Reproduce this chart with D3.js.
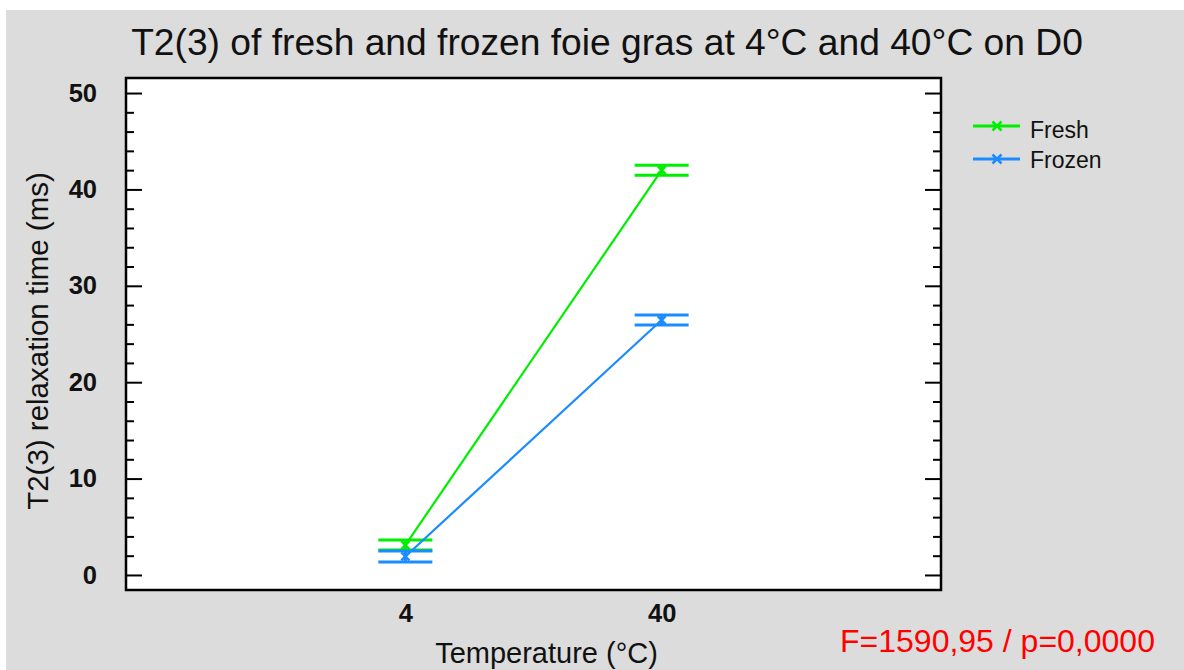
<!DOCTYPE html>
<html>
<head>
<meta charset="utf-8">
<script src="https://cdn.jsdelivr.net/npm/d3@7"></script>
<style>
  html, body { margin: 0; padding: 0; background: #ffffff; }
  svg { display: block; font-family: "Liberation Sans", Arial, sans-serif; }
</style>
</head>
<body>
<svg id="chart" width="1184" height="670"></svg>
<script>
const categories = ["4", "40"];
const seriesNames = ["Fresh", "Frozen"];
const freshMean = [3.1, 42.0];
const freshErr = [0.52, 0.52];
const frozenMean = [1.92, 26.45];
const frozenErr = [0.57, 0.52];
const yMajorTicks = [0, 10, 20, 30, 40, 50];
const yMinorTicks = [2, 4, 6, 8, 12, 14, 16, 18, 22, 24, 26, 28, 32, 34, 36, 38, 42, 44, 46, 48];

const colors = { Fresh: "#00ee00", Frozen: "#1a8cff" };
const series = [
  { name: "Fresh", mean: freshMean, err: freshErr },
  { name: "Frozen", mean: frozenMean, err: frozenErr }
];

const W = 1184, H = 670;
const plot = { left: 126, top: 78, right: 941, bottom: 590 };

const svg = d3.select("#chart");
svg.append("rect").attr("x", 6).attr("y", 10).attr("width", W - 6).attr("height", H - 10).attr("fill", "#dcdcdc");
svg.append("rect").attr("x", plot.left).attr("y", plot.top)
  .attr("width", plot.right - plot.left).attr("height", plot.bottom - plot.top).attr("fill", "#ffffff");

const x = d3.scalePoint().domain(categories).range([plot.left, plot.right]).padding(1.09);
const y = d3.scaleLinear().domain([-1.56, 51.56]).range([plot.bottom, plot.top]);

// Title
svg.append("text").attr("x", 607).attr("y", 55).attr("text-anchor", "middle")
  .attr("font-size", 37.2).attr("fill", "#111").text("T2(3) of fresh and frozen foie gras at 4°C and 40°C on D0");

// Axes
function styleAxis(g) {
  g.select(".domain").remove();
  g.selectAll(".tick line").attr("stroke", "#000").attr("stroke-width", 2);
}
const leftMajor = svg.append("g").attr("transform", `translate(${plot.left},0)`)
  .call(d3.axisLeft(y).tickValues(yMajorTicks).tickSize(-16).tickPadding(29).tickFormat(d3.format("d")));
styleAxis(leftMajor);
leftMajor.selectAll(".tick text").attr("font-size", 25.5).attr("font-weight", "bold").attr("fill", "#111")
  .attr("font-family", "Liberation Sans, Arial, sans-serif");
const leftMinor = svg.append("g").attr("transform", `translate(${plot.left},0)`)
  .call(d3.axisLeft(y).tickValues(yMinorTicks).tickSize(-8).tickFormat(""));
styleAxis(leftMinor);
const rightMajor = svg.append("g").attr("transform", `translate(${plot.right},0)`)
  .call(d3.axisRight(y).tickValues(yMajorTicks).tickSize(-16).tickFormat(""));
styleAxis(rightMajor);
const rightMinor = svg.append("g").attr("transform", `translate(${plot.right},0)`)
  .call(d3.axisRight(y).tickValues(yMinorTicks).tickSize(-8).tickFormat(""));
styleAxis(rightMinor);

const bottomAxis = svg.append("g").attr("transform", `translate(0,${plot.bottom})`)
  .call(d3.axisBottom(x).tickSize(0).tickPadding(14));
bottomAxis.select(".domain").remove();
bottomAxis.selectAll(".tick text").attr("font-size", 25.5).attr("font-weight", "bold").attr("fill", "#111")
  .attr("font-family", "Liberation Sans, Arial, sans-serif");

// Frame
svg.append("rect").attr("x", plot.left).attr("y", plot.top)
  .attr("width", plot.right - plot.left).attr("height", plot.bottom - plot.top)
  .attr("fill", "none").attr("stroke", "#000").attr("stroke-width", 2.5);

// Axis titles
svg.append("text").attr("transform", `translate(48,${(plot.top + plot.bottom) / 2 + 7}) rotate(-90)`)
  .attr("text-anchor", "middle").attr("font-size", 29.5).attr("fill", "#111").text("T2(3) relaxation time (ms)");
svg.append("text").attr("x", (plot.left + plot.right) / 2 + 13).attr("y", 663).attr("text-anchor", "middle")
  .attr("font-size", 29).attr("fill", "#111").text("Temperature (°C)");

// Series
const capHalf = 27;
const line = d3.line().x((d, i) => x(categories[i])).y(d => y(d));
function xMarker(g, cx, cy, color, s) {
  g.append("path").attr("d", `M${cx - s},${cy - s}L${cx + s},${cy + s}M${cx - s},${cy + s}L${cx + s},${cy - s}`)
    .attr("stroke", color).attr("stroke-width", 2.5).attr("fill", "none");
}
series.forEach(s => {
  const c = colors[s.name];
  const g = svg.append("g");
  g.append("path").datum(s.mean).attr("d", line).attr("fill", "none").attr("stroke", c).attr("stroke-width", 2.2);
  s.mean.forEach((m, i) => {
    const cx = x(categories[i]);
    [m + s.err[i], m - s.err[i]].forEach(v => {
      g.append("line").attr("x1", cx - capHalf).attr("x2", cx + capHalf)
        .attr("y1", y(v)).attr("y2", y(v)).attr("stroke", c).attr("stroke-width", 3);
    });
    g.append("line").attr("x1", cx).attr("x2", cx).attr("y1", y(m + s.err[i])).attr("y2", y(m - s.err[i]))
      .attr("stroke", c).attr("stroke-width", 3);
    xMarker(g, cx, y(m), c, 4);
  });
});

// Legend
const legY = [126, 159];
const legendText = [130, 160];
series.forEach((s, i) => {
  const c = colors[s.name];
  const g = svg.append("g");
  g.append("line").attr("x1", 973).attr("x2", 1020).attr("y1", legY[i]).attr("y2", legY[i])
    .attr("stroke", c).attr("stroke-width", 3);
  xMarker(g, 997, legY[i], c, 4.5);
  g.append("text").attr("x", 1030).attr("y", legendText[i]).attr("dy", "0.35em")
    .attr("font-size", 23).attr("fill", "#111").text(s.name);
});

// Annotation
svg.append("text").attr("x", 840).attr("y", 652).attr("font-size", 32).attr("fill", "#ff0000")
  .text("F=1590,95 / p=0,0000");
</script>
</body>
</html>
